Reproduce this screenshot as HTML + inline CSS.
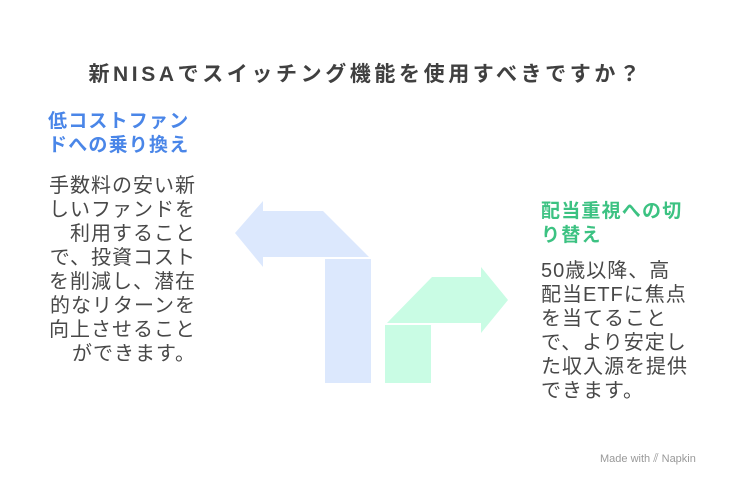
<!DOCTYPE html>
<html><head><meta charset="utf-8"><style>
body{margin:0;width:732px;height:485px;background:#fff;position:relative;overflow:hidden;font-family:"Liberation Sans","Noto Sans CJK JP",sans-serif;}
.t{position:absolute;white-space:nowrap;}
#title{left:0;width:732px;top:58px;text-align:center;font-size:21px;font-weight:bold;color:#404040;letter-spacing:3.6px;}
.h{font-size:19px;font-weight:bold;letter-spacing:1.2px;line-height:24px;}
.b{font-size:20px;color:#484848;letter-spacing:1px;line-height:24px;}
</style></head><body>
<div class="t" id="title">新NISAでスイッチング機能を使用すべきですか？</div>
<div class="t h" style="left:48px;top:110px;color:#4a86e8;">低コストファン<br>ドへの乗り換え</div>
<div class="t b" style="left:34px;width:162px;top:174px;text-align:right;">手数料の安い新<br>しいファンドを<br>利用すること<br>で、投資コスト<br>を削減し、潜在<br>的なリターンを<br>向上させること<br>ができます。</div>
<div class="t h" style="left:541px;top:200px;color:#3cc282;">配当重視への切<br>り替え</div>
<div class="t b" style="left:541px;top:259px;">50歳以降、高<br>配当ETFに焦点<br>を当てること<br>で、より安定し<br>た収入源を提供<br>できます。</div>
<svg width="732" height="485" style="position:absolute;left:0;top:0">
<polygon points="235,233 263,201 263,211 323,211 369,257 263,257 263,267" fill="#dce8fd"/>
<rect x="325" y="259" width="46" height="124" fill="#dce8fd"/>
<polygon points="387,323 432,277 481,277 481,267 508,300 481,333 481,323" fill="#c9fce4"/>
<rect x="385" y="325" width="46" height="58" fill="#c9fce4"/>
</svg>
<div class="t" style="left:600px;top:451px;font-size:11px;color:#999;">Made with <span style="font-size:12px">⫽</span> Napkin</div>
</body></html>
